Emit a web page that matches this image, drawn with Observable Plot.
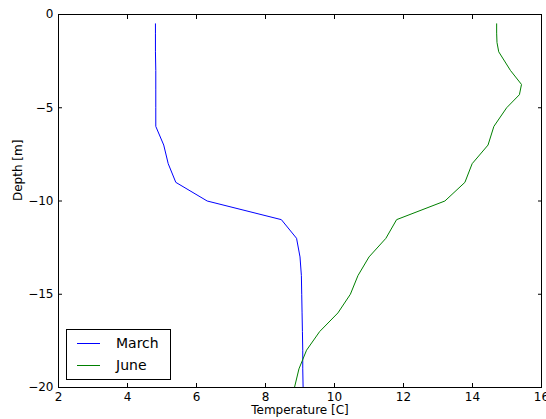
<!DOCTYPE html>
<html>
<head>
<meta charset="utf-8">
<script src="https://cdn.jsdelivr.net/npm/d3@7"></script>
<script src="https://cdn.jsdelivr.net/npm/@observablehq/plot@0.6"></script>
<style>
  html, body { margin: 0; padding: 0; background: #fff; }
  #wrap { position: relative; width: 546px; height: 419px; font-family: "DejaVu Sans", sans-serif; }
  #legend { position: absolute; left: 66px; top: 329px; width: 103px; height: 49px; border: 1px solid #000; background: #fff; font-size: 14px; }
  .item { position: absolute; left: 10px; height: 16px; display: flex; align-items: center; }
  .swatch { width: 23px; height: 0; border-top: 1px solid; margin-right: 16px; }
</style>
</head>
<body>
<div id="wrap"></div>
<script>
const marchDepth = [-0.5, -1, -2, -3, -4, -5, -6, -7, -8, -9, -10, -11, -12, -13, -14, -15, -16, -17, -18, -19, -20];
const marchTemp  = [4.81, 4.81, 4.81, 4.82, 4.82, 4.82, 4.82, 5.05, 5.18, 5.40, 6.31, 8.46, 8.90, 9.00, 9.04, 9.05, 9.06, 9.07, 9.08, 9.08, 9.09];
const juneDepth = [-0.5, -1, -1.5, -2, -3, -3.75, -4.3, -5, -6, -7, -8, -9, -10, -11, -12, -13, -14, -15, -16, -17, -18, -19, -20];
const juneTemp  = [14.70, 14.70, 14.71, 14.76, 15.10, 15.42, 15.36, 14.99, 14.62, 14.45, 13.99, 13.78, 13.20, 11.80, 11.49, 11.00, 10.68, 10.46, 10.10, 9.57, 9.19, 8.97, 8.84];
const xTicks = [2, 4, 6, 8, 10, 12, 14, 16];
const yTicks = [0, -5, -10, -15, -20];
const seriesNames = ["March", "June"];
const seriesColors = ["#0000ff", "#008000"];

const data = [
  ...marchDepth.map((d, i) => ({series: "March", depth: d, temp: marchTemp[i]})),
  ...juneDepth.map((d, i) => ({series: "June", depth: d, temp: juneTemp[i]}))
];

const fmt = d => d < 0 ? "\u2212" + Math.abs(d) : String(d);

const plot = Plot.plot({
  width: 546,
  height: 419,
  marginLeft: 58,
  marginRight: 5,
  marginTop: 14,
  marginBottom: 32,
  style: {fontFamily: "DejaVu Sans, sans-serif", fontSize: "12px", background: "#fff", color: "#000"},
  x: {domain: [2, 16], ticks: xTicks, label: null},
  y: {domain: [-20, 0], ticks: yTicks, label: null},
  color: {domain: seriesNames, range: seriesColors},
  marks: [
    Plot.line(data.filter(d => d.series === "March"), {x: "temp", y: "depth", stroke: "series", strokeWidth: 1}),
    Plot.line(data.filter(d => d.series === "June"), {x: "temp", y: "depth", stroke: "series", strokeWidth: 1}),
    Plot.axisX({anchor: "bottom", ticks: xTicks, tickSize: -4, tickPadding: 9, tickFormat: fmt, fontSize: 12, stroke: "#000"}),
    Plot.axisX({anchor: "top", ticks: xTicks, tickSize: -4, tickFormat: () => "", label: null}),
    Plot.axisY({anchor: "left", ticks: yTicks, tickSize: -4, tickPadding: 9, tickFormat: fmt, fontSize: 12}),
    Plot.axisY({anchor: "right", ticks: yTicks, tickSize: -4, tickFormat: () => "", label: null}),
    Plot.frame({stroke: "#000", strokeWidth: 1}),
    Plot.text(["Temperature [C]"], {frameAnchor: "bottom", dy: 26, fontSize: 12, fill: "#000"}),
    Plot.text(["Depth [m]"], {frameAnchor: "left", dx: -40, rotate: -90, fontSize: 12, fill: "#000"})
  ]
});

const wrap = document.getElementById("wrap");
wrap.appendChild(plot);

const legend = document.createElement("div");
legend.id = "legend";
seriesNames.forEach((name, i) => {
  const item = document.createElement("div");
  item.className = "item";
  item.style.top = (5 + i * 22) + "px";
  const sw = document.createElement("div");
  sw.className = "swatch";
  sw.style.borderTopColor = seriesColors[i];
  const lab = document.createElement("span");
  lab.textContent = name;
  item.appendChild(sw);
  item.appendChild(lab);
  legend.appendChild(item);
});
wrap.appendChild(legend);
</script>
</body>
</html>
